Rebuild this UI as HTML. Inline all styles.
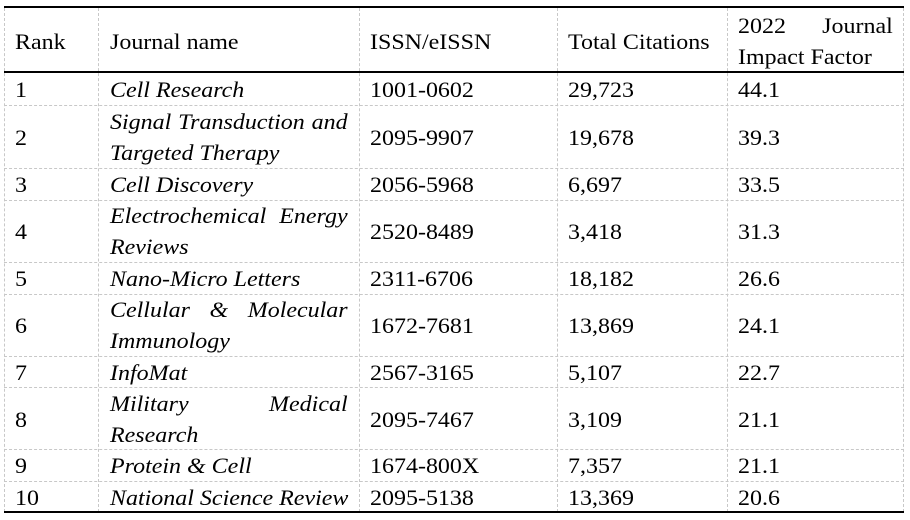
<!DOCTYPE html>
<html><head><meta charset="utf-8"><style>
body{margin:0;width:910px;height:520px;background:#fff;position:relative;overflow:hidden;font-family:"Liberation Serif",serif;font-size:22px;color:#000}
.h{position:absolute;left:4px;width:900px;background:#000}
.v{position:absolute;top:8px;height:504px;border-left:1px dashed #c8c8c8;width:0}
.r{position:absolute;left:4px;width:900px;border-top:1px dashed #c8c8c8;height:0}
.t{position:absolute;line-height:31px;white-space:nowrap;transform:scaleX(1.09);transform-origin:0 0;margin-top:1px}
.i{font-style:italic}
.j{text-align:justify;text-align-last:justify;white-space:normal}
</style></head><body>
<div class="v" style="left:4px"></div>
<div class="v" style="left:98px"></div>
<div class="v" style="left:359px"></div>
<div class="v" style="left:557px"></div>
<div class="v" style="left:727px"></div>
<div class="v" style="left:903px"></div>
<div class="r" style="top:105px"></div>
<div class="r" style="top:168px"></div>
<div class="r" style="top:200px"></div>
<div class="r" style="top:262px"></div>
<div class="r" style="top:294px"></div>
<div class="r" style="top:356px"></div>
<div class="r" style="top:387px"></div>
<div class="r" style="top:449px"></div>
<div class="r" style="top:481px"></div>
<div class="h" style="top:6px;height:2px"></div>
<div class="h" style="top:71px;height:2px"></div>
<div class="h" style="top:511px;height:2px"></div>

<div class="t" style="left:15px;top:25px">Rank</div>
<div class="t" style="left:110px;top:25px">Journal name</div>
<div class="t" style="left:370px;top:25px">ISSN/eISSN</div>
<div class="t" style="left:568px;top:25px">Total Citations</div>
<div class="t j" style="left:738px;top:9px;width:142px">2022 Journal</div>
<div class="t" style="left:738px;top:40px">Impact Factor</div>

<div class="t" style="left:15px;top:73px">1</div><div class="t i" style="left:110px;top:73px">Cell Research</div><div class="t" style="left:370px;top:73px">1001-0602</div><div class="t" style="left:568px;top:73px">29,723</div><div class="t" style="left:738px;top:73px">44.1</div>

<div class="t" style="left:15px;top:121px">2</div><div class="t i j" style="left:110px;top:105px;width:218px">Signal Transduction and</div><div class="t i" style="left:110px;top:136px">Targeted Therapy</div><div class="t" style="left:370px;top:121px">2095-9907</div><div class="t" style="left:568px;top:121px">19,678</div><div class="t" style="left:738px;top:121px">39.3</div>

<div class="t" style="left:15px;top:168px">3</div><div class="t i" style="left:110px;top:168px">Cell Discovery</div><div class="t" style="left:370px;top:168px">2056-5968</div><div class="t" style="left:568px;top:168px">6,697</div><div class="t" style="left:738px;top:168px">33.5</div>

<div class="t" style="left:15px;top:215px">4</div><div class="t i j" style="left:110px;top:199px;width:218px">Electrochemical Energy</div><div class="t i" style="left:110px;top:230px">Reviews</div><div class="t" style="left:370px;top:215px">2520-8489</div><div class="t" style="left:568px;top:215px">3,418</div><div class="t" style="left:738px;top:215px">31.3</div>

<div class="t" style="left:15px;top:262px">5</div><div class="t i" style="left:110px;top:262px">Nano-Micro Letters</div><div class="t" style="left:370px;top:262px">2311-6706</div><div class="t" style="left:568px;top:262px">18,182</div><div class="t" style="left:738px;top:262px">26.6</div>

<div class="t" style="left:15px;top:309px">6</div><div class="t i j" style="left:110px;top:293px;width:218px">Cellular &amp; Molecular</div><div class="t i" style="left:110px;top:324px">Immunology</div><div class="t" style="left:370px;top:309px">1672-7681</div><div class="t" style="left:568px;top:309px">13,869</div><div class="t" style="left:738px;top:309px">24.1</div>

<div class="t" style="left:15px;top:356px">7</div><div class="t i" style="left:110px;top:356px">InfoMat</div><div class="t" style="left:370px;top:356px">2567-3165</div><div class="t" style="left:568px;top:356px">5,107</div><div class="t" style="left:738px;top:356px">22.7</div>

<div class="t" style="left:15px;top:403px">8</div><div class="t i j" style="left:110px;top:387px;width:218px">Military Medical</div><div class="t i" style="left:110px;top:418px">Research</div><div class="t" style="left:370px;top:403px">2095-7467</div><div class="t" style="left:568px;top:403px">3,109</div><div class="t" style="left:738px;top:403px">21.1</div>

<div class="t" style="left:15px;top:449px">9</div><div class="t i" style="left:110px;top:449px">Protein &amp; Cell</div><div class="t" style="left:370px;top:449px">1674-800X</div><div class="t" style="left:568px;top:449px">7,357</div><div class="t" style="left:738px;top:449px">21.1</div>

<div class="t" style="left:15px;top:481px">10</div><div class="t i" style="left:110px;top:481px">National Science Review</div><div class="t" style="left:370px;top:481px">2095-5138</div><div class="t" style="left:568px;top:481px">13,369</div><div class="t" style="left:738px;top:481px">20.6</div>
</body></html>
